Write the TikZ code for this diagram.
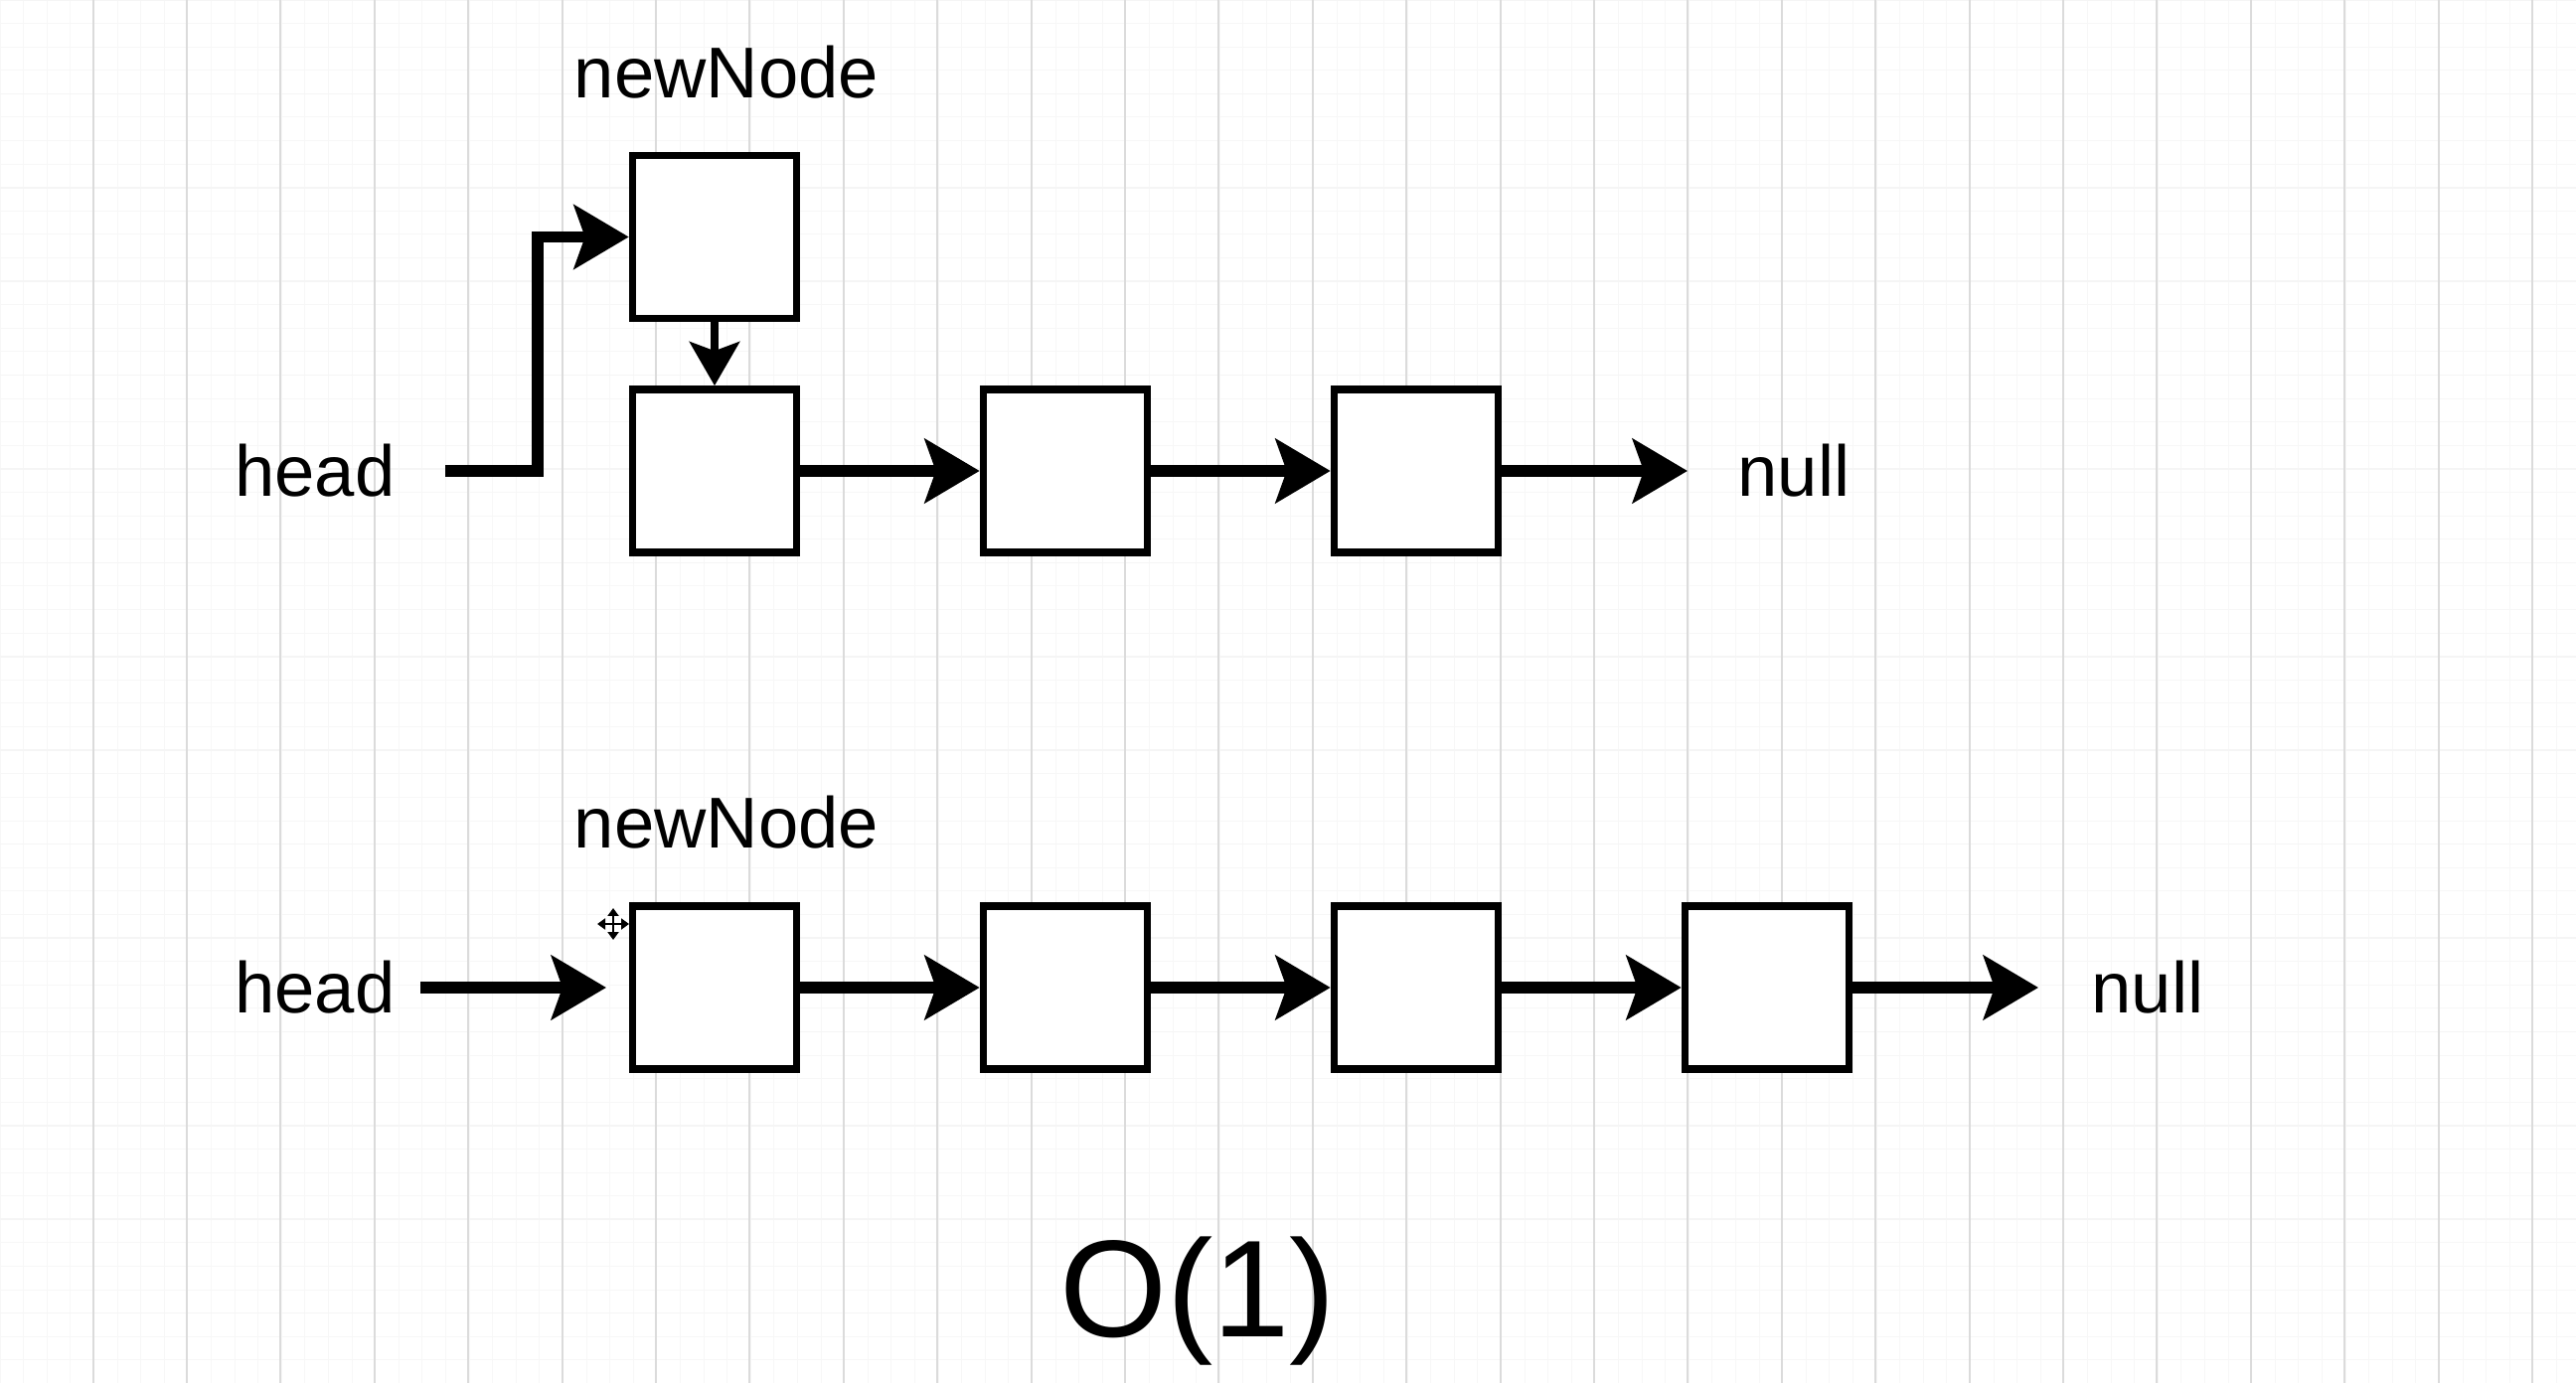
\documentclass[tikz,border=0pt]{standalone}
\usepackage{fontspec}
\setmainfont{Liberation Sans}
\usetikzlibrary{arrows.meta}
\begin{document}
\begin{tikzpicture}[x=0.01cm,y=-0.01cm,
  box/.style={draw=black, line width=0.075cm, minimum width=1.65cm, minimum height=1.64cm, inner sep=0pt, fill=white},
  lbl/.style={inner sep=0pt, font=\fontsize{20.6pt}{24pt}\selectfont},
  bigtxt/.style={inner sep=0pt, font=\fontsize{39.5pt}{44pt}\selectfont},
  arr/.style={line width=0.115cm, line join=miter, -{Stealth[length=0.55cm,width=0.64cm,inset=0.11cm]}},
  arrsmall/.style={line width=0.08cm, -{Stealth[length=0.44cm,width=0.50cm,inset=0.09cm]}},
  minorgrid/.style={draw=black!3, line width=0.01cm},
  majorv/.style={draw=black!14, line width=0.02cm},
  majorh/.style={draw=black!4, line width=0.015cm},
  cursor/.style={line width=0.025cm, {Triangle[length=0.08cm,width=0.11cm]}-{Triangle[length=0.08cm,width=0.11cm]}}
]
% background and grid
\fill[white] (0,0) rectangle (2592,1392);
\useasboundingbox (0,0) rectangle (2592,1392);
\foreach \i in {0,...,110} \draw[minorgrid] (\i*23.6,0) -- (\i*23.6,1392);
\foreach \j in {0,...,59} \draw[minorgrid] (0,\j*23.6) -- (2592,\j*23.6);
\foreach \j in {0,...,14} \draw[majorh] (0,\j*94.4) -- (2592,\j*94.4);
\foreach \i in {1,...,27} \draw[majorv] ({-0.8+\i*94.4},0) -- ({-0.8+\i*94.4},1392);

% ---- top diagram ----
\node[lbl] (nnlabel1) at (731,72.5) {newNode};
\node[box] (nn) at (719,238.5) {};
\node[box] (a1) at (719,474) {};
\node[box] (a2) at (1072,474) {};
\node[box] (a3) at (1425,474) {};
\node[lbl] (head1) at (317,474) {head};
\node[lbl] (null1) at (1805,474) {null};
\coordinate (h1s) at (448,474);
\coordinate (h1k) at (541,474);
\coordinate (n1e) at (1698,474);

\draw[arr] (h1s) -- (h1k) |- (nn.west);
\draw[arrsmall] (nn.south) -- (a1.north);
\draw[arr] (a1.east) -- (a2.west);
\draw[arr] (a2.east) -- (a3.west);
\draw[arr] (a3.east) -- (n1e);

% ---- bottom diagram ----
\node[lbl] (nnlabel2) at (731,828) {newNode};
\node[box] (b1) at (719,994) {};
\node[box] (b2) at (1072,994) {};
\node[box] (b3) at (1425,994) {};
\node[box] (b4) at (1778,994) {};
\node[lbl] (head2) at (317,994) {head};
\node[lbl] (null2) at (2161,994) {null};
\coordinate (h2s) at (423,994);
\coordinate (h2e) at (610,994);
\coordinate (n2e) at (2051,994);

\draw[arr] (h2s) -- (h2e);
\draw[arr] (b1.east) -- (b2.west);
\draw[arr] (b2.east) -- (b3.west);
\draw[arr] (b3.east) -- (b4.west);
\draw[arr] (b4.east) -- (n2e);

% move cursor
\coordinate (cur) at (617,930);
\draw[cursor] ([xshift=-0.16cm]cur) -- ([xshift=0.16cm]cur);
\draw[cursor] ([yshift=-0.16cm]cur) -- ([yshift=0.16cm]cur);

% complexity
\node[bigtxt, anchor=base] (big) at (1205,1345) {O(1)};
\end{tikzpicture}
\end{document}
